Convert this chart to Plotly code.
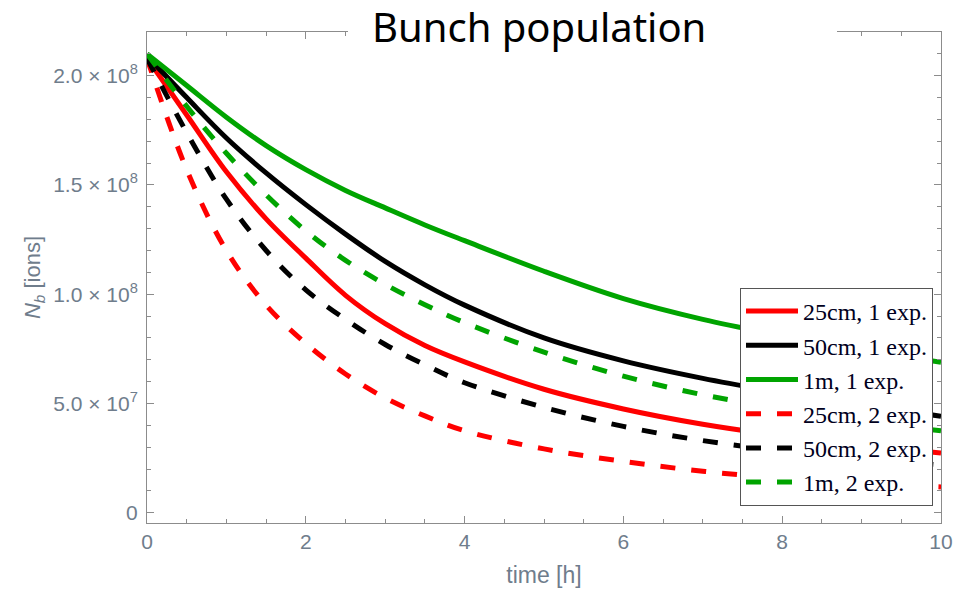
import plotly.graph_objects as go

# ---- data, N_b in units of 1e8 ions ----
time_h = [0, 0.5, 1.0, 1.5, 2.0, 2.5, 3.0, 3.5, 4.0, 5.0, 6.0, 7.0, 8.0, 9.0, 10.0]

n_25cm_1exp = [2.08, 1.82, 1.56, 1.345, 1.165, 0.995, 0.865, 0.765, 0.69, 0.565, 0.475, 0.405, 0.352, 0.31, 0.273]
n_50cm_1exp = [2.09, 1.90, 1.715, 1.555, 1.41, 1.275, 1.15, 1.043, 0.95, 0.80, 0.695, 0.615, 0.55, 0.493, 0.442]
n_1m_1exp   = [2.10, 1.955, 1.81, 1.68, 1.57, 1.475, 1.395, 1.317, 1.245, 1.105, 0.98, 0.885, 0.81, 0.745, 0.689]
n_25cm_2exp = [2.08, 1.57, 1.20, 0.95, 0.775, 0.635, 0.525, 0.443, 0.375, 0.292, 0.235, 0.19, 0.158, 0.135, 0.118]
n_50cm_2exp = [2.08, 1.74, 1.435, 1.20, 1.02, 0.885, 0.77, 0.677, 0.595, 0.482, 0.395, 0.33, 0.283, 0.247, 0.218]
n_1m_2exp   = [2.10, 1.86, 1.645, 1.455, 1.29, 1.155, 1.045, 0.952, 0.87, 0.735, 0.625, 0.54, 0.475, 0.42, 0.375]

series_names = ["25cm, 1 exp.", "50cm, 1 exp.", "1m, 1 exp.",
                "25cm, 2 exp.", "50cm, 2 exp.", "1m, 2 exp."]
series_values = [n_25cm_1exp, n_50cm_1exp, n_1m_1exp,
                 n_25cm_2exp, n_50cm_2exp, n_1m_2exp]

y_tick_vals = [0, 5e7, 1e8, 1.5e8, 2e8]
y_tick_text = ["0", "5.0 × 10<sup>7</sup>", "1.0 × 10<sup>8</sup>",
               "1.5 × 10<sup>8</sup>", "2.0 × 10<sup>8</sup>"]
x_tick_vals = [0, 2, 4, 6, 8, 10]

# ---- styles ----
colors = ["#ff0000", "#000000", "#00a400", "#ff0000", "#000000", "#00a400"]
dashes = ["solid", "solid", "solid", "15px,16px", "15px,16px", "15px,16px"]

AX = "#8c8c8c"
LBL = "#6f7d8c"

fig = go.Figure()
for name, vals, c, d in zip(series_names, series_values, colors, dashes):
    fig.add_trace(go.Scatter(
        x=time_h, y=[v * 1e8 for v in vals], name=name, mode="lines",
        line=dict(color=c, width=5, dash=d, shape="spline", smoothing=1.0),
    ))

W, H = 960, 589
L, R, T, B = 147, 19, 32, 66
pw, ph = W - L - R, H - T - B

fig.update_layout(
    width=W, height=H,
    margin=dict(l=L, r=R, t=T, b=B, autoexpand=False),
    paper_bgcolor="white", plot_bgcolor="white",
    showlegend=True,
    legend=dict(
        x=(933 - L) / pw, y=(523 - 506) / ph, xanchor="right", yanchor="bottom",
        bgcolor="white", bordercolor="#555555", borderwidth=1,
        font=dict(family="Liberation Serif", size=24, color="#000020"),
        tracegroupgap=0, itemwidth=52,
    ),
    xaxis=dict(
        range=[0, 10], tickvals=x_tick_vals,
        showgrid=False, zeroline=False,
        showline=True, linecolor=AX, linewidth=1, mirror="ticks",
        ticks="inside", ticklen=7, tickcolor=AX, tickwidth=1,
        minor=dict(dtick=0.5, ticks="inside", ticklen=4, tickcolor=AX, showgrid=False),
        tickfont=dict(family="Liberation Sans", size=21, color=LBL),
        title=dict(text="time [h]", font=dict(family="Liberation Sans", size=23, color=LBL), standoff=14),
    ),
    yaxis=dict(
        range=[-0.047e8, 2.2e8], tickvals=y_tick_vals, ticktext=y_tick_text,
        showgrid=False, zeroline=False,
        showline=True, linecolor=AX, linewidth=1, mirror="ticks",
        ticks="inside", ticklen=7, tickcolor=AX, tickwidth=1,
        minor=dict(dtick=1e7, tick0=0, ticks="inside", ticklen=4, tickcolor=AX, showgrid=False),
        tickfont=dict(family="Liberation Sans", size=21, color=LBL),
        ticklabelstandoff=4,
        title=dict(text="<i>N</i><sub><i>b</i></sub> [ions]",
                   font=dict(family="Liberation Sans", size=22, color=LBL), standoff=6),
    ),
    shapes=[dict(
        type="rect", xref="paper", yref="paper", layer="above",
        x0=(348 - L) / pw, x1=(837 - L) / pw,
        y0=(523 - 45) / ph, y1=(523 + 2) / ph,
        fillcolor="white", line=dict(width=0),
    )],
    annotations=[dict(
        text="Bunch population", xref="paper", yref="paper",
        x=(539 - L) / pw, y=(523 - 27) / ph, xanchor="center", yanchor="middle",
        showarrow=False, font=dict(family="Noto Sans", size=40, color="black"),
    )],
)

fig.write_html("out.html")
